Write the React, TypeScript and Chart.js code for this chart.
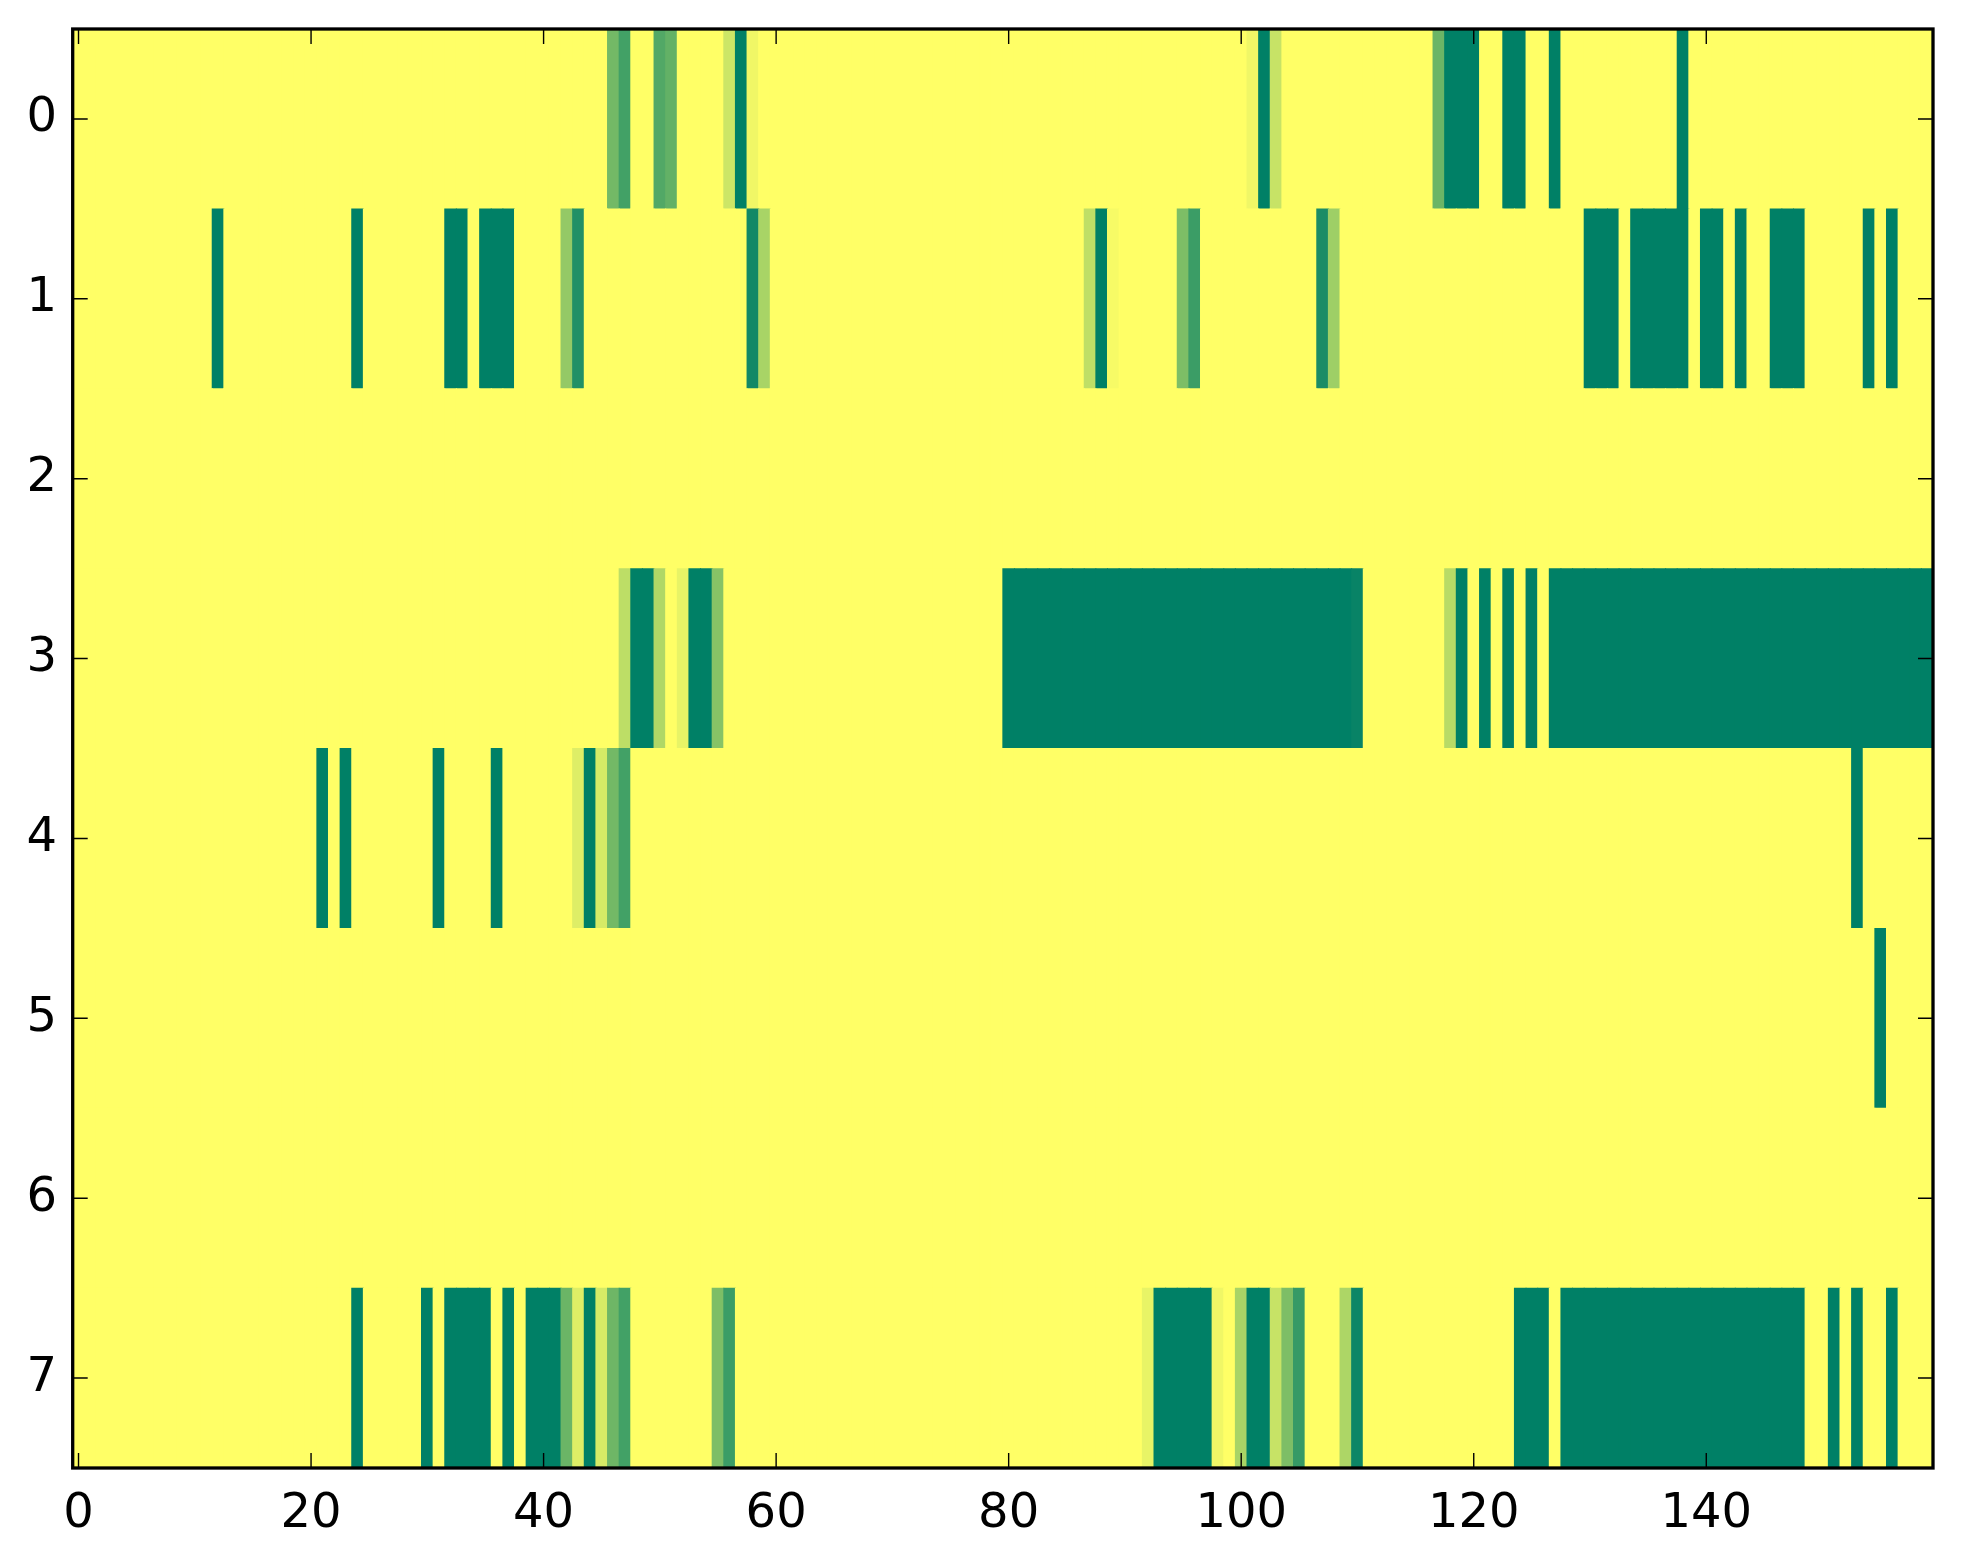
import { useEffect, useRef } from "react";
import { Chart, registerables } from "chart.js";

Chart.register(...registerables);

const ROW_LABELS = ["0", "1", "2", "3", "4", "5", "6", "7"];
const X_TICKS = [0, 20, 40, 60, 80, 100, 120, 140];

// cell values per row (160 columns each), 0 = dark green, 1 = yellow (summer colormap)
const ROW_0 = [
  1, 1, 1, 1, 1, 1, 1, 1, 1, 1, 1, 1, 1, 1, 1, 1, 1, 1, 1, 1,
  1, 1, 1, 1, 1, 1, 1, 1, 1, 1, 1, 1, 1, 1, 1, 1, 1, 1, 1, 1,
  1, 1, 1, 1, 1, 1, 0.45, 0.26, 1, 1, 0.32, 0.39, 1, 1, 1, 1, 0.8, 0, 0.94, 1,
  1, 1, 1, 1, 1, 1, 1, 1, 1, 1, 1, 1, 1, 1, 1, 1, 1, 1, 1, 1,
  1, 1, 1, 1, 1, 1, 1, 1, 1, 1, 1, 1, 1, 1, 1, 1, 1, 1, 1, 1,
  1, 0.94, 0, 0.78, 1, 1, 1, 1, 1, 1, 1, 1, 1, 1, 1, 1, 1, 0.42, 0, 0,
  0, 1, 1, 0, 0, 1, 1, 0, 1, 1, 1, 1, 1, 1, 1, 1, 1, 1, 0, 1,
  1, 1, 1, 1, 1, 1, 1, 1, 1, 1, 1, 1, 1, 1, 1, 1, 1, 1, 1, 1,
];
const ROW_1 = [
  1, 1, 1, 1, 1, 1, 1, 1, 1, 1, 1, 1, 0, 1, 1, 1, 1, 1, 1, 1,
  1, 1, 1, 1, 0, 1, 1, 1, 1, 1, 1, 1, 0, 0, 1, 0, 0, 0, 1, 1,
  1, 1, 0.58, 0.13, 1, 1, 1, 1, 1, 1, 1, 1, 1, 1, 1, 1, 1, 1, 0.07, 0.66,
  1, 1, 1, 1, 1, 1, 1, 1, 1, 1, 1, 1, 1, 1, 1, 1, 1, 1, 1, 1,
  1, 1, 1, 1, 1, 1, 1, 0.75, 0, 0.97, 1, 1, 1, 1, 1, 0.49, 0.23, 1, 1, 1,
  1, 1, 1, 1, 1, 1, 1, 0.1, 0.62, 1, 1, 1, 1, 1, 1, 1, 1, 1, 1, 1,
  1, 1, 1, 1, 1, 1, 1, 1, 1, 1, 0, 0, 0, 1, 0, 0, 0, 0, 0, 1,
  0, 0, 1, 0, 1, 1, 0, 0, 0, 1, 1, 1, 1, 1, 0, 1, 0, 1, 1, 1,
];
const ROW_2 = [
  1, 1, 1, 1, 1, 1, 1, 1, 1, 1, 1, 1, 1, 1, 1, 1, 1, 1, 1, 1,
  1, 1, 1, 1, 1, 1, 1, 1, 1, 1, 1, 1, 1, 1, 1, 1, 1, 1, 1, 1,
  1, 1, 1, 1, 1, 1, 1, 1, 1, 1, 1, 1, 1, 1, 1, 1, 1, 1, 1, 1,
  1, 1, 1, 1, 1, 1, 1, 1, 1, 1, 1, 1, 1, 1, 1, 1, 1, 1, 1, 1,
  1, 1, 1, 1, 1, 1, 1, 1, 1, 1, 1, 1, 1, 1, 1, 1, 1, 1, 1, 1,
  1, 1, 1, 1, 1, 1, 1, 1, 1, 1, 1, 1, 1, 1, 1, 1, 1, 1, 1, 1,
  1, 1, 1, 1, 1, 1, 1, 1, 1, 1, 1, 1, 1, 1, 1, 1, 1, 1, 1, 1,
  1, 1, 1, 1, 1, 1, 1, 1, 1, 1, 1, 1, 1, 1, 1, 1, 1, 1, 1, 1,
];
const ROW_3 = [
  1, 1, 1, 1, 1, 1, 1, 1, 1, 1, 1, 1, 1, 1, 1, 1, 1, 1, 1, 1,
  1, 1, 1, 1, 1, 1, 1, 1, 1, 1, 1, 1, 1, 1, 1, 1, 1, 1, 1, 1,
  1, 1, 1, 1, 1, 1, 1, 0.74, 0, 0, 0.69, 1, 0.91, 0, 0, 0.53, 1, 1, 1, 1,
  1, 1, 1, 1, 1, 1, 1, 1, 1, 1, 1, 1, 1, 1, 1, 1, 1, 1, 1, 1,
  0, 0, 0, 0, 0, 0, 0, 0, 0, 0, 0, 0, 0, 0, 0, 0, 0, 0, 0, 0,
  0, 0, 0, 0, 0, 0, 0, 0, 0, 0, 0.03, 1, 1, 1, 1, 1, 1, 1, 0.72, 0,
  1, 0, 1, 0, 1, 0, 1, 0, 0, 0, 0, 0, 0, 0, 0, 0, 0, 0, 0, 0,
  0, 0, 0, 0, 0, 0, 0, 0, 0, 0, 0, 0, 0, 0, 0, 0, 0, 0, 0, 0,
];
const ROW_4 = [
  1, 1, 1, 1, 1, 1, 1, 1, 1, 1, 1, 1, 1, 1, 1, 1, 1, 1, 1, 1,
  1, 0, 1, 0, 1, 1, 1, 1, 1, 1, 1, 0, 1, 1, 1, 1, 0, 1, 1, 1,
  1, 1, 1, 0.87, 0, 0.84, 0.45, 0.26, 1, 1, 1, 1, 1, 1, 1, 1, 1, 1, 1, 1,
  1, 1, 1, 1, 1, 1, 1, 1, 1, 1, 1, 1, 1, 1, 1, 1, 1, 1, 1, 1,
  1, 1, 1, 1, 1, 1, 1, 1, 1, 1, 1, 1, 1, 1, 1, 1, 1, 1, 1, 1,
  1, 1, 1, 1, 1, 1, 1, 1, 1, 1, 1, 1, 1, 1, 1, 1, 1, 1, 1, 1,
  1, 1, 1, 1, 1, 1, 1, 1, 1, 1, 1, 1, 1, 1, 1, 1, 1, 1, 1, 1,
  1, 1, 1, 1, 1, 1, 1, 1, 1, 1, 1, 1, 1, 0, 1, 1, 1, 1, 1, 1,
];
const ROW_5 = [
  1, 1, 1, 1, 1, 1, 1, 1, 1, 1, 1, 1, 1, 1, 1, 1, 1, 1, 1, 1,
  1, 1, 1, 1, 1, 1, 1, 1, 1, 1, 1, 1, 1, 1, 1, 1, 1, 1, 1, 1,
  1, 1, 1, 1, 1, 1, 1, 1, 1, 1, 1, 1, 1, 1, 1, 1, 1, 1, 1, 1,
  1, 1, 1, 1, 1, 1, 1, 1, 1, 1, 1, 1, 1, 1, 1, 1, 1, 1, 1, 1,
  1, 1, 1, 1, 1, 1, 1, 1, 1, 1, 1, 1, 1, 1, 1, 1, 1, 1, 1, 1,
  1, 1, 1, 1, 1, 1, 1, 1, 1, 1, 1, 1, 1, 1, 1, 1, 1, 1, 1, 1,
  1, 1, 1, 1, 1, 1, 1, 1, 1, 1, 1, 1, 1, 1, 1, 1, 1, 1, 1, 1,
  1, 1, 1, 1, 1, 1, 1, 1, 1, 1, 1, 1, 1, 1, 1, 0, 1, 1, 1, 1,
];
const ROW_6 = [
  1, 1, 1, 1, 1, 1, 1, 1, 1, 1, 1, 1, 1, 1, 1, 1, 1, 1, 1, 1,
  1, 1, 1, 1, 1, 1, 1, 1, 1, 1, 1, 1, 1, 1, 1, 1, 1, 1, 1, 1,
  1, 1, 1, 1, 1, 1, 1, 1, 1, 1, 1, 1, 1, 1, 1, 1, 1, 1, 1, 1,
  1, 1, 1, 1, 1, 1, 1, 1, 1, 1, 1, 1, 1, 1, 1, 1, 1, 1, 1, 1,
  1, 1, 1, 1, 1, 1, 1, 1, 1, 1, 1, 1, 1, 1, 1, 1, 1, 1, 1, 1,
  1, 1, 1, 1, 1, 1, 1, 1, 1, 1, 1, 1, 1, 1, 1, 1, 1, 1, 1, 1,
  1, 1, 1, 1, 1, 1, 1, 1, 1, 1, 1, 1, 1, 1, 1, 1, 1, 1, 1, 1,
  1, 1, 1, 1, 1, 1, 1, 1, 1, 1, 1, 1, 1, 1, 1, 1, 1, 1, 1, 1,
];
const ROW_7 = [
  1, 1, 1, 1, 1, 1, 1, 1, 1, 1, 1, 1, 1, 1, 1, 1, 1, 1, 1, 1,
  1, 1, 1, 1, 0, 1, 1, 1, 1, 1, 0, 1, 0, 0, 0, 0, 1, 0, 1, 0,
  0, 0, 0.42, 0.87, 0, 0.84, 0.43, 0.26, 1, 1, 1, 1, 1, 1, 1, 0.49, 0.23, 1, 1, 1,
  1, 1, 1, 1, 1, 1, 1, 1, 1, 1, 1, 1, 1, 1, 1, 1, 1, 1, 1, 1,
  1, 1, 1, 1, 1, 1, 1, 1, 1, 1, 1, 1, 0.91, 0, 0, 0, 0, 0, 0.94, 1,
  0.66, 0, 0, 0.78, 0.49, 0.21, 1, 1, 1, 0.68, 0.05, 1, 1, 1, 1, 1, 1, 1, 1, 1,
  1, 1, 1, 1, 0, 0, 0, 1, 0, 0, 0, 0, 0, 0, 0, 0, 0, 0, 0, 0,
  0, 0, 0, 0, 0, 0, 0, 0, 0, 1, 1, 0, 1, 0, 1, 1, 0, 1, 1, 1,
];
const ROWS = [ROW_0, ROW_1, ROW_2, ROW_3, ROW_4, ROW_5, ROW_6, ROW_7];

function summer(v: number): string {
  const t = Math.max(0, Math.min(1, v));
  const r = Math.round(255 * t);
  const g = Math.round(255 * (0.5 + 0.5 * t));
  return `rgb(${r},${g},102)`;
}

const FONT = { family: "'DejaVu Sans', sans-serif", size: 48 };

const framePlugin = {
  id: "mplFrame",
  afterDraw(chart: any) {
    const { ctx, chartArea: a, scales } = chart;
    const L = 15;
    ctx.save();
    ctx.strokeStyle = "#000";
    ctx.lineWidth = 1.4;
    ctx.beginPath();
    scales.x.ticks.forEach((t: any) => {
      const px = scales.x.getPixelForValue(t.value);
      ctx.moveTo(px, a.bottom);
      ctx.lineTo(px, a.bottom - L);
      ctx.moveTo(px, a.top);
      ctx.lineTo(px, a.top + L);
    });
    scales.y.ticks.forEach((_t: any, i: number) => {
      const py = scales.y.getPixelForTick(i);
      ctx.moveTo(a.left, py);
      ctx.lineTo(a.left + L, py);
      ctx.moveTo(a.right, py);
      ctx.lineTo(a.right - L, py);
    });
    ctx.stroke();
    ctx.lineWidth = 3.3;
    ctx.strokeRect(a.left, a.top, a.right - a.left, a.bottom - a.top);
    ctx.restore();
  },
};

export default function App() {
  const ref = useRef<HTMLCanvasElement | null>(null);

  useEffect(() => {
    if (!ref.current) return;
    const cells: any[] = [];
    ROWS.forEach((row, r) => {
      row.forEach((v, c) => {
        cells.push({ x: [c - 0.5, c + 0.5], y: ROW_LABELS[r], v });
      });
    });

    const chart = new Chart(ref.current, {
      type: "bar",
      data: {
        labels: ROW_LABELS,
        datasets: [
          {
            data: cells,
            backgroundColor: (ctx: any) => summer(ctx.raw ? ctx.raw.v : 1),
            borderWidth: 0,
            barPercentage: 1,
            categoryPercentage: 1,
            inflateAmount: 0.5,
          } as any,
        ],
      },
      options: {
        indexAxis: "y",
        animation: false,
        responsive: false,
        maintainAspectRatio: false,
        layout: { padding: { top: 29, right: 30, left: 0, bottom: 0 } },
        plugins: {
          legend: { display: false },
          tooltip: { enabled: false },
          title: { display: false },
        },
        scales: {
          x: {
            type: "linear",
            position: "bottom",
            min: -0.5,
            max: 159.5,
            grid: { display: false, drawTicks: false },
            border: { display: false },
            ticks: {
              font: FONT,
              color: "#000",
              padding: 18,
              maxRotation: 0,
              autoSkip: false,
            },
            afterBuildTicks: (axis: any) => {
              axis.ticks = X_TICKS.map((v) => ({ value: v }));
            },
            afterFit: (s: any) => {
              s.height = 96;
              s.paddingLeft = 0;
              s.paddingRight = 0;
            },
          },
          y: {
            type: "category",
            position: "left",
            offset: true,
            grid: { display: false, drawTicks: false },
            border: { display: false },
            ticks: { font: FONT, color: "#000", padding: 15.7 },
            afterFit: (s: any) => {
              s.width = 72.7;
              s.paddingTop = 0;
              s.paddingBottom = 0;
            },
          },
        },
      } as any,
      plugins: [framePlugin],
    });
    return () => chart.destroy();
  }, []);

  return (
    <canvas
      ref={ref}
      width={1963}
      height={1564}
      style={{ position: "absolute", left: 0, top: 0, display: "block", background: "#fff" }}
    />
  );
}
